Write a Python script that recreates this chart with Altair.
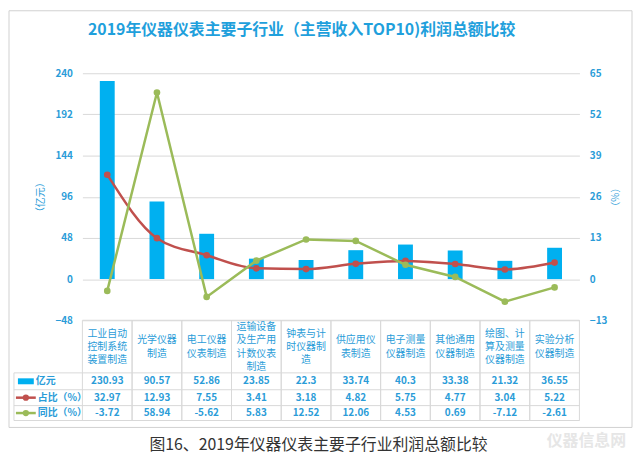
import altair as alt
import pandas as pd

# ---------------- data ----------------
categories = ["工业自动控制系统装置制造", "光学仪器制造", "电工仪器仪表制造",
              "运输设备及生产用计数仪表制造", "钟表与计时仪器制造", "供应用仪表制造",
              "电子测量仪器制造", "其他通用仪器制造", "绘图、计算及测量仪器制造",
              "实验分析仪器制造"]
profit = [230.93, 90.57, 52.86, 23.85, 22.3, 33.74, 40.3, 33.38, 21.32, 36.55]
share = [32.97, 12.93, 7.55, 3.41, 3.18, 4.82, 5.75, 4.77, 3.04, 5.22]
yoy = [-3.72, 58.94, -5.62, 5.83, 12.52, 12.06, 4.53, 0.69, -7.12, -2.61]
left_ticks = [-48, 0, 48, 96, 144, 192, 240]
right_ticks = [-13, 0, 13, 26, 39, 52, 65]
series_names = ["亿元", "占比（%）", "同比（%）"]
title_text = "2019年仪器仪表主要子行业（主营收入TOP10)利润总额比较"
caption_text = "图16、2019年仪器仪表主要子行业利润总额比较"
watermark_text = "仪器信息网"

# ---------------- styles ----------------
BLUE_TXT = "#2A9CD8"
BAR = "#00B0F0"
RED = "#C0504D"
GREEN = "#9BBB59"
GRID = "#D9D9D9"
FONT = "Noto Sans CJK SC"
W, H = 501, 249
LH = 13.5
FS = 10


def fmt(v):
    return f"{v:g}"


def wrap(s, n=4):
    return [s[i:i + n] for i in range(0, len(s), n)]


df = pd.DataFrame({
    "cat": categories,
    "label": ["\n".join(wrap(c)) for c in categories],
    "nlines": [len(wrap(c)) for c in categories],
    "profit": profit,
    "share": share,
    "yoy": yoy,
    "profit_t": [fmt(v) for v in profit],
    "share_t": [fmt(v) for v in share],
    "yoy_t": [fmt(v) for v in yoy],
})
one = pd.DataFrame({"a": [0]})

X = alt.X("cat:N", sort=categories,
          scale=alt.Scale(paddingInner=0, paddingOuter=0), axis=None)

base = alt.Chart(df)

bars = base.mark_bar(size=15, color=BAR).encode(
    x=X,
    y=alt.Y("profit:Q", scale=alt.Scale(domain=[-48, 240], nice=False, zero=False),
            axis=alt.Axis(values=left_ticks, title="（亿元）", grid=True, gridColor=GRID,
                          domain=False, ticks=False, labelPadding=10,
                          labelColor=BLUE_TXT, labelFont=FONT, labelFontSize=FS,
                          labelFontWeight="bold",
                          titleColor=BLUE_TXT, titleFont=FONT, titleFontSize=FS,
                          titleFontWeight="normal", titleX=-42, titleY=H / 2,
                          titleAngle=-90, titleBaseline="middle", titleAlign="center")),
)

right_axis = alt.Axis(values=right_ticks, title="（%）", grid=False, orient="right",
                      domain=False, ticks=False, labelPadding=10,
                      labelColor=BLUE_TXT, labelFont=FONT, labelFontSize=FS,
                      labelFontWeight="bold",
                      titleColor=BLUE_TXT, titleFont=FONT, titleFontSize=FS,
                      titleFontWeight="normal", titleX=34, titleY=H / 2,
                      titleAngle=90, titleBaseline="middle", titleAlign="center")
rscale = alt.Scale(domain=[-13, 65], nice=False, zero=False)

red_line = base.mark_line(color=RED, strokeWidth=2.5, interpolate="monotone").encode(
    x=X, y=alt.Y("share:Q", scale=rscale, axis=right_axis))
red_pts = base.mark_circle(color=RED, size=45, opacity=1).encode(
    x=X, y=alt.Y("share:Q", scale=rscale, axis=right_axis))
green_line = base.mark_line(color=GREEN, strokeWidth=2.5).encode(
    x=X, y=alt.Y("yoy:Q", scale=rscale, axis=right_axis))
green_pts = base.mark_circle(color=GREEN, size=45, opacity=1).encode(
    x=X, y=alt.Y("yoy:Q", scale=rscale, axis=right_axis))
lines = alt.layer(red_line, red_pts, green_line, green_pts)

# ---------------- table ----------------
Y_TOP, Y_HDR, Y_R1, Y_R2, Y_BOT = H, 302, 319, 335, 350
HDR_MID = (Y_TOP + Y_HDR) / 2 + 0.5
cols = base.mark_rect(fillOpacity=0, stroke=GRID, strokeWidth=1).encode(
    x=X, y=alt.value(Y_TOP), y2=alt.value(Y_BOT))


def hrule(y):
    return alt.Chart(one).mark_rule(color=GRID, strokeWidth=1).encode(
        x=alt.value(-69), x2=alt.value(W), y=alt.value(y))


vleft = alt.Chart(one).mark_rule(color=GRID, strokeWidth=1).encode(
    x=alt.value(-69), y=alt.value(Y_HDR), y2=alt.value(Y_BOT))


def hdr_layer(n):
    return base.transform_filter(alt.datum.nlines == n).mark_text(
        lineBreak="\n", lineHeight=LH, fontSize=FS, font=FONT,
        color=BLUE_TXT, baseline="middle").encode(
        x=X, y=alt.value(HDR_MID - (n - 1) * LH / 2), text="label:N")


hdrs = [hdr_layer(n) for n in sorted(set(df["nlines"]))]


def row_text(field, y):
    return base.mark_text(fontSize=FS, font=FONT, color=BLUE_TXT, fontWeight="bold",
                          baseline="middle").encode(x=X, y=alt.value(y), text=f"{field}:N")


r1 = row_text("profit_t", (Y_HDR + Y_R1) / 2)
r2 = row_text("share_t", (Y_R1 + Y_R2) / 2)
r3 = row_text("yoy_t", (Y_R2 + Y_BOT) / 2)

leg_df = pd.DataFrame({"name": series_names})


def leg_text(i, x, y):
    return alt.Chart(leg_df.iloc[[i]]).mark_text(
        fontSize=FS, font=FONT, color=BLUE_TXT, fontWeight="bold", align="left",
        baseline="middle").encode(x=alt.value(x), y=alt.value(y), text="name:N")


ly1, ly2, ly3 = (Y_HDR + Y_R1) / 2, (Y_R1 + Y_R2) / 2, (Y_R2 + Y_BOT) / 2
leg_bar = alt.Chart(one).mark_rect(color=BAR).encode(
    x=alt.value(-65), x2=alt.value(-49), y=alt.value(ly1 - 3), y2=alt.value(ly1 + 3))
leg_red = alt.Chart(one).mark_rule(color=RED, strokeWidth=2.5).encode(
    x=alt.value(-67), x2=alt.value(-47), y=alt.value(ly2))
leg_red_pt = alt.Chart(one).mark_circle(color=RED, size=40, opacity=1).encode(
    x=alt.value(-57), y=alt.value(ly2))
leg_green = alt.Chart(one).mark_rule(color=GREEN, strokeWidth=2.5).encode(
    x=alt.value(-67), x2=alt.value(-47), y=alt.value(ly3))
leg_green_pt = alt.Chart(one).mark_circle(color=GREEN, size=40, opacity=1).encode(
    x=alt.value(-57), y=alt.value(ly3))

# ---------------- frame, title, caption ----------------
frame = alt.Chart(one).mark_rect(fillOpacity=0, stroke="#D0D0D0", strokeWidth=1).encode(
    x=alt.value(-74), x2=alt.value(554), y=alt.value(-63), y2=alt.value(357))

title = alt.Chart(pd.DataFrame({"t": [title_text]})).mark_text(
    fontSize=16, font=FONT, fontWeight="bold", color="#1FA0DC", baseline="middle").encode(
    x=alt.value(221), y=alt.value(-44), text="t:N")

caption = alt.Chart(pd.DataFrame({"t": [caption_text]})).mark_text(
    fontSize=16, font=FONT, color="#333333", baseline="middle").encode(
    x=alt.value(238), y=alt.value(375), text="t:N")

watermark = alt.Chart(pd.DataFrame({"t": [watermark_text]})).mark_text(
    fontSize=16, font=FONT, fontWeight="bold", color="#E6E6E6", baseline="middle").encode(
    x=alt.value(508), y=alt.value(371), text="t:N")

chart = alt.layer(
    frame, bars, lines, cols, hrule(Y_HDR), hrule(Y_R1), hrule(Y_R2), hrule(Y_BOT), vleft,
    *hdrs, r1, r2, r3,
    leg_bar, leg_red, leg_red_pt, leg_green, leg_green_pt,
    leg_text(0, -47, ly1), leg_text(1, -45, ly2), leg_text(2, -45, ly3),
    title, caption, watermark,
).resolve_scale(y="independent").properties(
    width=W, height=H, padding=0, background="white"
).configure_view(stroke=None)

chart.save("out.html", embed_options={"renderer": "svg", "actions": False})
